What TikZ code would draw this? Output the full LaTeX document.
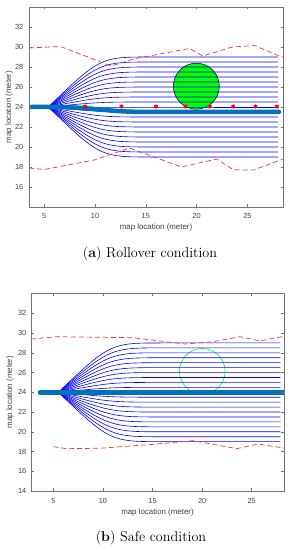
\documentclass[tikz,border=0pt]{standalone}
\usepackage{fontspec}
\newfontfamily\axfont{Liberation Sans}
\usetikzlibrary{plotmarks}
\definecolor{mblue}{rgb}{0,0.447,0.741}
\definecolor{mgreen}{rgb}{0,1,0}
\tikzset{
  axbox/.style={draw=black!55, line width=0.5pt},
  tickmark/.style={draw=black!55, line width=0.5pt},
  ticklab/.style={font=\axfont\fontsize{7.4}{8}\selectfont, text=black!75, inner sep=0pt},
  axlab/.style={font=\axfont\fontsize{7.9}{9}\selectfont, text=black!75, inner sep=0pt},
  traj/.style={blue, line width=0.6pt},
  best/.style={mblue, line width=4.5pt, line cap=round},
  bound/.style={red!80!white, line width=0.7pt, dash pattern=on 5pt off 3pt},
  capt/.style={font=\fontsize{14.2}{16}\selectfont, inner sep=0pt},
}
\begin{document}
\begin{tikzpicture}[x=1pt,y=1pt]
\useasboundingbox (0,0) rectangle (290,550);

% ================= top plot =================
\begin{scope}[shift={(-6.56pt,203pt)}, x=10.16pt, y=10pt]
  \begin{scope}
    \clip (3.5,14) rectangle (28.5,34);
    \filldraw[fill=mgreen, draw=black, line width=0.5pt] (19.97,26.08) circle[radius=23pt];
    \foreach \k in {-10,...,10}{
      \pgfmathsetmacro\ye{24+0.5*\k}
      \draw[traj] (5.4,24) .. controls (10.5,\ye) .. (15.6,\ye) -- (28.0,\ye);
    }
    \draw[best] (3.7,24) -- (5.4,24) .. controls (10.5,24) and (10.5,23.5) .. (15.5,23.5) -- (28.1,23.5);
    \draw[red, line width=1.1pt] plot[only marks, mark=asterisk, mark size=2.1pt]
      coordinates {(9.0,24.05) (12.6,24.05) (16.0,24.05) (18.9,24.05) (21.3,24.05) (23.6,24.05) (25.8,24.05) (27.9,24.05)};
    \draw[bound] (3.5,29.9) -- (6.6,30.05) -- (11.6,28.1) -- (13.9,28.83) -- (19.3,29.85)
      -- (20.6,29.1) -- (23.5,30.0) -- (25.7,30.15) -- (27.9,29.2) -- (28.5,29.0);
    \draw[bound] (3.5,17.9) -- (5.0,17.75) -- (10.0,18.72) -- (13.4,19.9) -- (18.5,18.0)
      -- (22.0,18.8) -- (23.6,17.72) -- (25.6,17.7) -- (28.5,18.8);
  \end{scope}
  \draw[axbox] (3.5,14) rectangle (28.5,34);
  \foreach \x in {5,10,15,20,25}{
    \draw[tickmark] (\x,14) -- ++(0,2.5pt);
    \draw[tickmark] (\x,34) -- ++(0,-2.5pt);
    \node[ticklab, anchor=north, yshift=-6pt] at (\x,14) {\x};
  }
  \foreach \y in {16,18,...,32}{
    \draw[tickmark] (3.5,\y) -- ++(2.5pt,0);
    \draw[tickmark] (28.5,\y) -- ++(-2.5pt,0);
    \node[ticklab, anchor=east, xshift=-5.5pt] at (3.5,\y) {\y};
  }
  \node[axlab] (xla) at (16,14) [yshift=-20.7pt] {map location (meter)};
  \path (3.5,24) ++(-20pt,0) node[axlab, rotate=90] (yla) {map location (meter)};
\end{scope}
\node[capt] (capa) at (150,296) {(\textbf{a}) Rollover condition};

% ================= bottom plot =================
\begin{scope}[shift={(3.72pt,-79.18pt)}, x=9.92pt, y=9.87pt]
  \begin{scope}
    \clip (2.75,14) rectangle (28.25,34);
    \draw[mgreen, line width=0.6pt] (20.02,26.13) circle[radius=22.8pt];
    \foreach \k in {-10,...,10}{
      \pgfmathsetmacro\ye{24+0.5*\k}
      \draw[traj] (5.5,24) .. controls (10.75,\ye) .. (16.0,\ye) -- (27.9,\ye);
    }
    \draw[best] (3.66,24) -- (28.6,24);
    \draw[bound] (2.75,29.4) -- (5.34,29.63) -- (13.06,29.53) -- (18.27,28.89) -- (21.13,29.13)
      -- (23.82,29.63) -- (25.83,29.2) -- (28.0,29.63) -- (28.25,29.55);
    \draw[bound] (5.0,18.49) -- (6.35,18.29) -- (9.7,18.33) -- (15.08,18.73) -- (19.1,19.1)
      -- (23.49,18.29) -- (25.66,18.76) -- (28.25,18.35);
  \end{scope}
  \draw[axbox] (2.75,14) rectangle (28.25,34);
  \foreach \x in {5,10,15,20,25}{
    \draw[tickmark] (\x,14) -- ++(0,2.5pt);
    \draw[tickmark] (\x,34) -- ++(0,-2.5pt);
    \node[ticklab, anchor=north, yshift=-7pt] at (\x,14) {\x};
  }
  \foreach \y in {14,16,...,32}{
    \draw[tickmark] (2.75,\y) -- ++(2.5pt,0);
    \draw[tickmark] (28.25,\y) -- ++(-2.5pt,0);
    \node[ticklab, anchor=east, xshift=-4.5pt] at (2.75,\y) {\y};
  }
  \node[axlab] (xlb) at (15.5,14) [yshift=-21pt] {map location (meter)};
  \path (2.75,24) ++(-21pt,0) node[axlab, rotate=90] (ylb) {map location (meter)};
\end{scope}
\node[capt] (capb) at (151,12.3) {(\textbf{b}) Safe condition};
\end{tikzpicture}
\end{document}
